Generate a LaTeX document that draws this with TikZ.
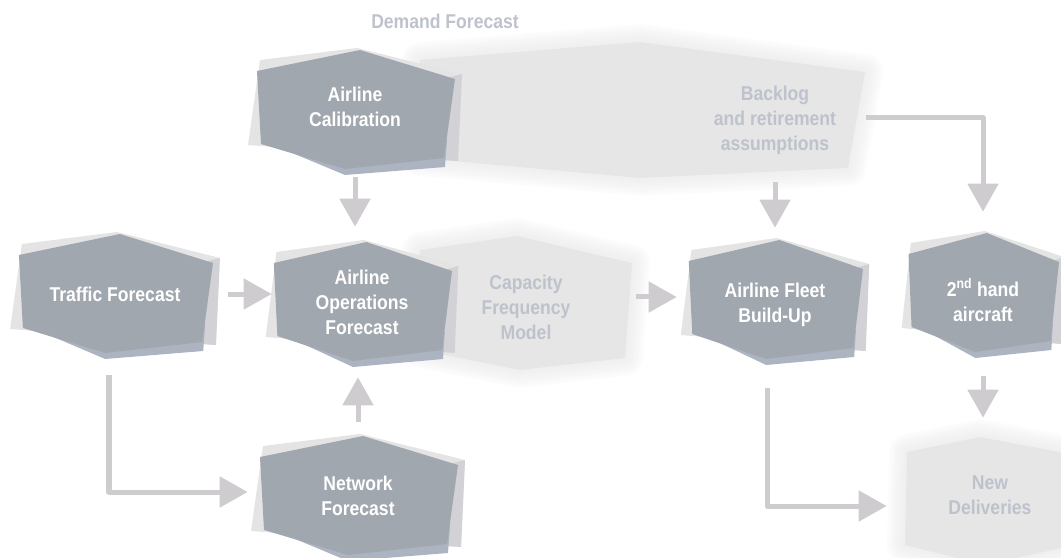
\documentclass[tikz,border=0pt]{standalone}
\usepackage{fontspec}
\setmainfont{Liberation Sans}[FakeStretch=0.88]
\usepackage{xcolor}
\usetikzlibrary{arrows.meta, backgrounds}
\definecolor{hexfill}{RGB}{161,167,175}
\definecolor{hexblue}{RGB}{172,180,194}
\definecolor{shadowlight}{RGB}{228,228,228}
\definecolor{shadowdark}{RGB}{210,210,214}
\definecolor{blobgray}{RGB}{230,230,230}
\definecolor{fadegray}{RGB}{189,194,204}
\definecolor{arrowgray}{RGB}{206,204,206}
\tikzset{
  blocktext/.style={text=white, align=center, inner sep=0pt,
                    font=\bfseries\fontsize{14.2pt}{17.8pt}\selectfont},
  fadetext/.style={blocktext, text=fadegray},
  arrow/.style={draw=arrowgray, line width=0.125cm, line join=round,
                -{Triangle[length=0.7cm, width=0.75cm]}},
}
% dark block with its grey backdrop
\newcommand{\hexblock}[3]{%
  \begin{scope}[shift={(#1)}, yshift=#3, xscale=#2]
    \fill[shadowlight] (-95,-50) -- (2,-62) -- (107,-36) -- (103,51) -- (-107,35) -- cycle;
    \fill[shadowdark] (95,-33) -- (107,-36) -- (103,51) -- (88,50) -- cycle;
    \fill[hexblue] (-94,30) -- (-10,65) -- (90,57) -- (92,30) -- cycle;
    \fill[hexfill] (-98,-39) -- (5,-60) -- (100,-31) -- (89,48) -- (-10,59) -- (-94,34) -- cycle;
  \end{scope}}
% light blurred area
\newcommand{\softblob}[1]{%
  \foreach \w in {36,32,...,4}{\draw[blobgray, opacity=0.1, line width=\w*0.025cm, line join=round] #1;}
  \fill[blobgray] #1;}
\begin{document}
\begin{tikzpicture}[x=0.025cm, y=-0.025cm]
  \useasboundingbox (0,0) rectangle (1061,558);

  % blocks
  \node[blocktext, minimum width=5cm, minimum height=3.5cm] (cal) at (355,107) {Airline\\Calibration};
  \node[blocktext, minimum width=5.65cm, minimum height=4.05cm] (traffic) at (115,294) {Traffic Forecast};
  \node[blocktext, minimum width=4.5cm, minimum height=3.75cm] (aof) at (362,302) {Airline\\Operations\\Forecast};
  \node[blocktext, minimum width=5.5cm, minimum height=3.7cm] (net) at (358,496) {Network\\Forecast};
  \node[fadetext, minimum width=5.5cm] (cap) at (526,307) {Capacity\\Frequency\\Model};
  \node[blocktext, minimum width=4.9cm, minimum height=3.85cm] (fleet) at (775,305) {Airline Fleet\\Build-Up};
  \node[fadetext, minimum width=4.55cm, minimum height=3.1cm] (back) at (775,120) {Backlog\\and retirement\\assumptions};
  \node[blocktext, minimum height=3.8cm] (hand) at (983,300) {2\textsuperscript{nd} hand\\aircraft};
  \node[fadetext, minimum width=5.15cm, minimum height=3.85cm] (new) at (990,495) {New\\Deliveries};
  \node[fadetext] (demand) at (445,21) {Demand Forecast};

  \begin{scope}[on background layer]
    \softblob{(420,60) -- (640,42) -- (865,72) -- (848,168) -- (640,178) -- (420,158) -- cycle}
    \softblob{(420,250) -- (517,236) -- (632,263) -- (625,358) -- (520,370) -- (420,350) -- cycle}
    \softblob{(907,452) -- (980,437) -- (1075,455) -- (1075,545) -- (985,565) -- (905,545) -- cycle}
    \hexblock{cal.center}{1}{-0.075cm}
    \hexblock{traffic.center}{0.98}{0cm}
    \hexblock{aof.center}{0.9}{0cm}
    \hexblock{net.center}{1}{0cm}
    \hexblock{fleet.center}{0.88}{0.125cm}
    \hexblock{hand.center}{0.76}{0.175cm}
  \end{scope}

  % connectors
  \draw[arrow] (cal.south) -- (cal.south |- aof.north);
  \draw[arrow] (traffic.east) -- (traffic.east -| aof.west);
  \draw[arrow] (net.north) -- (net.north |- aof.south);
  \draw[arrow] ([xshift=-0.15cm]traffic.south) |- ([yshift=0.1cm]net.west);
  \draw[arrow] ([yshift=0.25cm]cap.east) -- ([yshift=0.25cm]cap.east -| fleet.west);
  \draw[arrow] (back.south) -- (back.south |- fleet.north);
  \draw[arrow] ([yshift=0.05cm]back.east) -| ([yshift=0.3cm]hand.north);
  \draw[arrow] (hand.south) -- (hand.south |- new.north);
  \draw[arrow] ([xshift=-0.2cm, yshift=-0.15cm]fleet.south) |- ([yshift=-0.275cm]new.west);
\end{tikzpicture}
\end{document}
